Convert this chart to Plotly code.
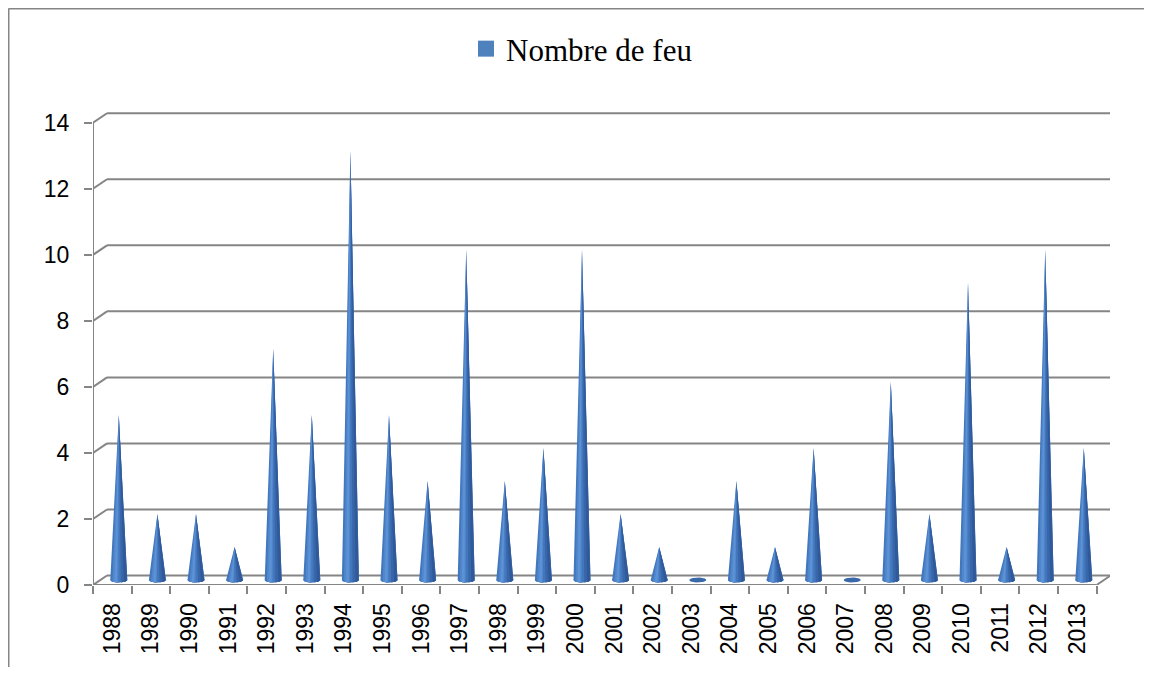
import math
import plotly.graph_objects as go

# ---- data ----
years = ["1988", "1989", "1990", "1991", "1992", "1993", "1994", "1995", "1996",
         "1997", "1998", "1999", "2000", "2001", "2002", "2003", "2004", "2005",
         "2006", "2007", "2008", "2009", "2010", "2011", "2012", "2013"]
fires = [5, 2, 2, 1, 7, 5, 13, 5, 3, 10, 3, 4, 10, 2, 1, 0, 3, 1, 4, 0, 6, 2, 9, 1, 10, 4]
y_ticks = [0, 2, 4, 6, 8, 10, 12, 14]
series_name = "Nombre de feu"

# ---- geometry / style ----
OFF = 8               # page body margin
W, H = 1152 - 2 * OFF, 675 - 2 * OFF
ML, MT = 93 - OFF, 100 - OFF
MR = W - (1110 - OFF)
MB = H - (585 - OFF)
PX_X = 38.6           # px per category
PX_Y = 33.02          # px per unit
n = len(years)
x_range = [-0.5, -0.5 + (W - ML - MR) / PX_X]
y_range = [0, (H - MT - MB) / PX_Y]
DXU = 14 / PX_X       # depth offset (x units)
DYU = 9.5 / PX_Y      # depth offset (y units)
CX_OFF = 6.5 / PX_X
BASE = 5 / PX_Y
HW = 8.5 / PX_X
EH = 2.5 / PX_Y
GRID = "#858585"

def ell_y(cx, x, sign=-1):
    t = max(0.0, 1 - ((x - cx) / HW) ** 2)
    return BASE + sign * EH * math.sqrt(t)

def strip(a, b, steps=8):
    xs, ys = [], []
    for i, v in enumerate(fires):
        cx = i + CX_OFF
        if v <= 0:
            continue
        tip = (cx, BASE + v)
        x0, x1 = cx + a * HW, cx + b * HW
        pts = [tip]
        for k in range(steps + 1):
            xx = x1 + (x0 - x1) * k / steps
            pts.append((xx, ell_y(cx, xx)))
        pts.append(tip)
        xs += [p[0] for p in pts] + [None]
        ys += [p[1] for p in pts] + [None]
    return xs, ys

fig = go.Figure()

# bases (ellipses)
ex, ey = [], []
for i, v in enumerate(fires):
    cx = i + CX_OFF
    for k in range(33):
        a = 2 * math.pi * k / 32
        ex.append(cx + HW * math.cos(a))
        ey.append(BASE + EH * math.sin(a))
    ex.append(None)
    ey.append(None)
fig.add_trace(go.Scatter(x=ex, y=ey, fill="toself", mode="lines", line=dict(width=0),
                         fillcolor="#3a69aa", hoverinfo="skip", showlegend=False))

# cone bodies with simple shading strips
for (a, b, col) in [(-1, 1, "#4277bd"), (-0.75, -0.05, "#5186cb"),
                    (-0.5, -0.2, "#5c92d6"), (0.25, 1, "#3866a9"), (0.6, 1, "#30599a")]:
    sx, sy = strip(a, b)
    fig.add_trace(go.Scatter(x=sx, y=sy, fill="toself", mode="lines", line=dict(width=0),
                             fillcolor=col, hoverinfo="skip", showlegend=False))

# legend entry
fig.add_trace(go.Scatter(x=[None], y=[None], mode="markers", name=series_name,
                         marker=dict(symbol="square", size=16, color="#4f81bd")))

shapes = []
def line(x0, y0, x1, y1, xref="x", yref="y", layer="below"):
    shapes.append(dict(type="line", x0=x0, y0=y0, x1=x1, y1=y1, xref=xref, yref=yref,
                       line=dict(color=GRID, width=2), layer=layer))

for v in y_ticks:
    line(-0.5, v, -0.5 + DXU, v + DYU)
    line(-0.5 + DXU, v + DYU, x_range[1], v + DYU)
line(-0.5, 0, -0.5, y_ticks[-1])
line(-0.5, 0, n - 0.5, 0)
line(n - 0.5, 0, n - 0.5 + DXU, DYU)

# outer frame (top and left edges visible), figure-pixel coordinates
pw, ph = W - ML - MR, H - MT - MB
def px(xp): return (xp - ML) / pw
def py(yp): return (H - MB - yp) / ph
line(px(0.5), py(0.5), px(W + 5), py(0.5), "paper", "paper")
line(px(0.5), py(0.5), px(0.5), py(H + 5), "paper", "paper")

fig.update_layout(
    width=W, height=H,
    margin=dict(l=ML, r=MR, t=MT, b=MB),
    paper_bgcolor="white", plot_bgcolor="white",
    shapes=shapes,
    showlegend=True,
    legend=dict(x=px(466 - OFF), xanchor="left", y=py(49 - OFF), yanchor="middle",
                orientation="h", font=dict(family="Liberation Serif", size=31, color="black"),
                bgcolor="rgba(0,0,0,0)"),
    xaxis=dict(range=x_range, showgrid=False, zeroline=False, showline=False,
               tickmode="array", tickvals=list(range(n)), ticktext=years, tickangle=-90,
               ticks="outside", ticklen=8, tickcolor="rgba(0,0,0,0)",
               tickfont=dict(family="Liberation Sans", size=23, color="black"),
               minor=dict(tickmode="array", tickvals=[k - 0.5 for k in range(n + 1)],
                          ticks="outside", ticklen=8, tickwidth=2, tickcolor=GRID,
                          showgrid=False)),
    yaxis=dict(range=y_range, showgrid=False, zeroline=False, showline=False,
               tickmode="array", tickvals=y_ticks,
               ticks="outside", ticklen=8, tickwidth=2, tickcolor=GRID,
               ticklabelstandoff=10,
               tickfont=dict(family="Liberation Sans", size=23, color="black")),
)

fig.write_html("out.html")
